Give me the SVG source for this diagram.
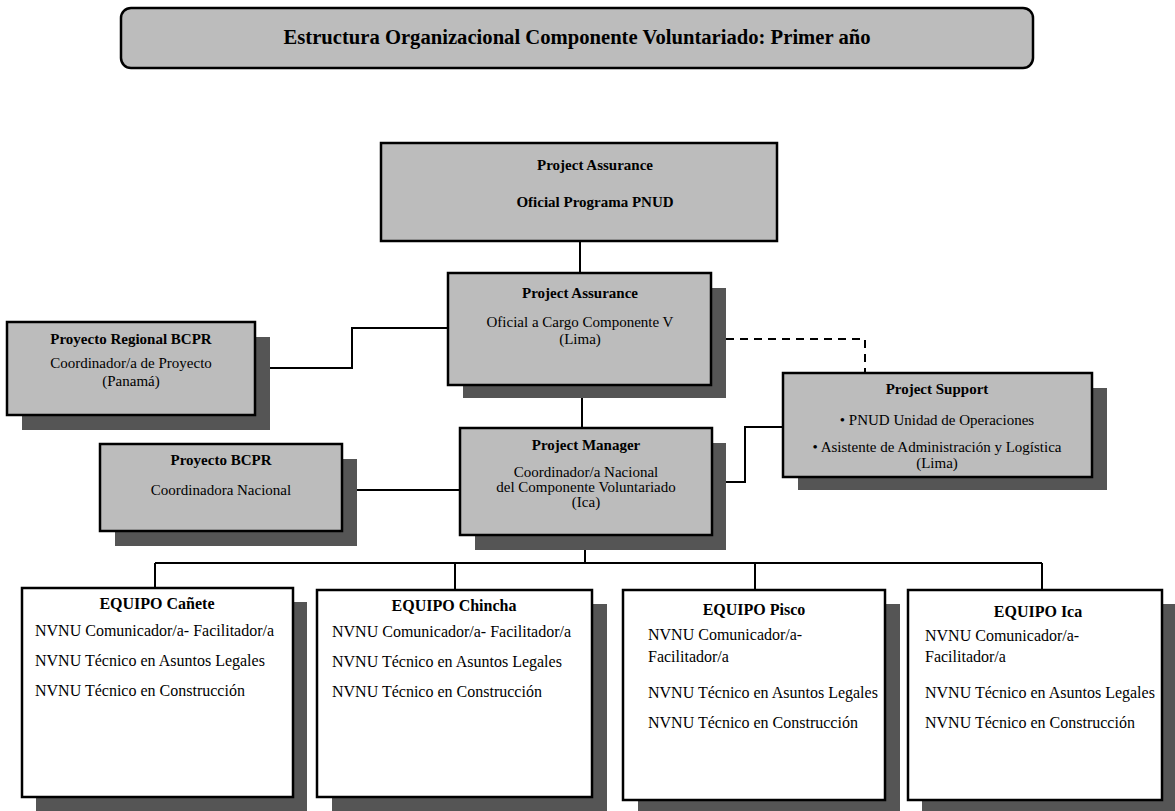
<svg xmlns="http://www.w3.org/2000/svg" width="1175" height="811" viewBox="0 0 1175 811">
<defs>
<style>
.box{fill:#bcbcbc;stroke:#000;stroke-width:2.5}
.wbox{fill:#fff;stroke:#000;stroke-width:2.5}
.sh{fill:#555}
.ln{fill:none;stroke:#000;stroke-width:2}
.dash{fill:none;stroke:#000;stroke-width:2;stroke-dasharray:8 6}
text{font-family:"Liberation Serif","Times New Roman",serif;fill:#000}
.b{font-weight:bold;font-size:15px;text-anchor:middle}
.c{font-size:15px;text-anchor:middle}
.h{font-weight:bold;font-size:16px;text-anchor:middle}
.t{font-size:16px}
</style>
</defs>
<rect width="1175" height="811" fill="#fff"/>
<g id="title">
<rect x="121" y="8" width="912" height="60" rx="10" class="box"/>
<text x="577" y="44" font-size="20" font-weight="bold" text-anchor="middle" textLength="587" lengthAdjust="spacingAndGlyphs">Estructura Organizacional Componente Voluntariado: Primer año</text>
</g>
<g id="connectors">
<line x1="580" y1="241" x2="580" y2="273" class="ln"/>
<line x1="582" y1="398" x2="582" y2="428" class="ln"/>
<polyline points="270,368 352,368 352,328 448,328" class="ln"/>
<polyline points="726,339 865,339 865,373" class="dash"/>
<line x1="357" y1="490" x2="460" y2="490" class="ln"/>
<polyline points="726,482 745,482 745,427 783,427" class="ln"/>
<line x1="585" y1="550" x2="585" y2="563" class="ln"/>
<line x1="155" y1="563" x2="1042" y2="563" class="ln"/>
<line x1="155" y1="563" x2="155" y2="588" class="ln"/>
<line x1="455" y1="563" x2="455" y2="590" class="ln"/>
<line x1="755" y1="563" x2="755" y2="590" class="ln"/>
<line x1="1042" y1="563" x2="1042" y2="590" class="ln"/>
</g>
<g id="pa-top">
<rect x="381" y="143" width="396" height="98" class="box"/>
<text x="595" y="170" class="b">Project Assurance</text>
<text x="595" y="207" class="b">Oficial Programa PNUD</text>
</g>
<g id="pa-comp">
<rect x="463" y="288" width="263" height="110" class="sh"/>
<rect x="448" y="273" width="263" height="112" class="box"/>
<text x="580" y="298" class="b">Project Assurance</text>
<text x="580" y="327" class="c">Oficial a Cargo Componente V</text>
<text x="580" y="344" class="c">(Lima)</text>
</g>
<g id="regional">
<rect x="22" y="337" width="248" height="93" class="sh"/>
<rect x="7" y="322" width="248" height="93" class="box"/>
<text x="131" y="344" class="b">Proyecto Regional BCPR</text>
<text x="131" y="368" class="c">Coordinador/a de Proyecto</text>
<text x="131" y="386" class="c">(Panamá)</text>
</g>
<g id="bcpr">
<rect x="115" y="459" width="242" height="87" class="sh"/>
<rect x="100" y="444" width="242" height="87" class="box"/>
<text x="221" y="465" class="b">Proyecto BCPR</text>
<text x="221" y="495" class="c">Coordinadora Nacional</text>
</g>
<g id="pm">
<rect x="475" y="443" width="251" height="107" class="sh"/>
<rect x="460" y="428" width="252" height="107" class="box"/>
<text x="586" y="450" class="b">Project Manager</text>
<text x="586" y="477" class="c">Coordinador/a Nacional</text>
<text x="586" y="492" class="c">del Componente Voluntariado</text>
<text x="586" y="507" class="c">(Ica)</text>
</g>
<g id="support">
<rect x="798" y="388" width="309" height="102" class="sh"/>
<rect x="783" y="373" width="309" height="104" class="box"/>
<text x="937" y="394" class="b">Project Support</text>
<text x="937" y="425" class="c">• PNUD Unidad de Operaciones</text>
<text x="937" y="452" class="c">• Asistente de Administración y Logística</text>
<text x="937" y="468" class="c">(Lima)</text>
</g>
<g id="canete">
<rect x="36" y="602" width="271" height="209" class="sh"/>
<rect x="22" y="588" width="271" height="209" class="wbox"/>
<text x="157" y="609" class="h">EQUIPO Cañete</text>
<text x="35" y="636" class="t">NVNU Comunicador/a- Facilitador/a</text>
<text x="35" y="666" class="t">NVNU Técnico en Asuntos Legales</text>
<text x="35" y="696" class="t">NVNU Técnico en Construcción</text>
</g>
<g id="chincha">
<rect x="332" y="604" width="275" height="207" class="sh"/>
<rect x="317" y="590" width="275" height="207" class="wbox"/>
<text x="454" y="611" class="h">EQUIPO Chincha</text>
<text x="332" y="637" class="t">NVNU Comunicador/a- Facilitador/a</text>
<text x="332" y="667" class="t">NVNU Técnico en Asuntos Legales</text>
<text x="332" y="697" class="t">NVNU Técnico en Construcción</text>
</g>
<g id="pisco">
<rect x="638" y="604" width="262" height="207" class="sh"/>
<rect x="623" y="590" width="262" height="210" class="wbox"/>
<text x="754" y="615" class="h">EQUIPO Pisco</text>
<text x="648" y="640" class="t">NVNU Comunicador/a-</text>
<text x="648" y="662" class="t">Facilitador/a</text>
<text x="648" y="698" class="t">NVNU Técnico en Asuntos Legales</text>
<text x="648" y="728" class="t">NVNU Técnico en Construcción</text>
</g>
<g id="ica">
<rect x="922" y="604" width="253" height="207" class="sh"/>
<rect x="908" y="590" width="254" height="210" class="wbox"/>
<text x="1038" y="617" class="h">EQUIPO Ica</text>
<text x="925" y="641" class="t">NVNU Comunicador/a-</text>
<text x="925" y="662" class="t">Facilitador/a</text>
<text x="925" y="698" class="t">NVNU Técnico en Asuntos Legales</text>
<text x="925" y="728" class="t">NVNU Técnico en Construcción</text>
</g>
</svg>
